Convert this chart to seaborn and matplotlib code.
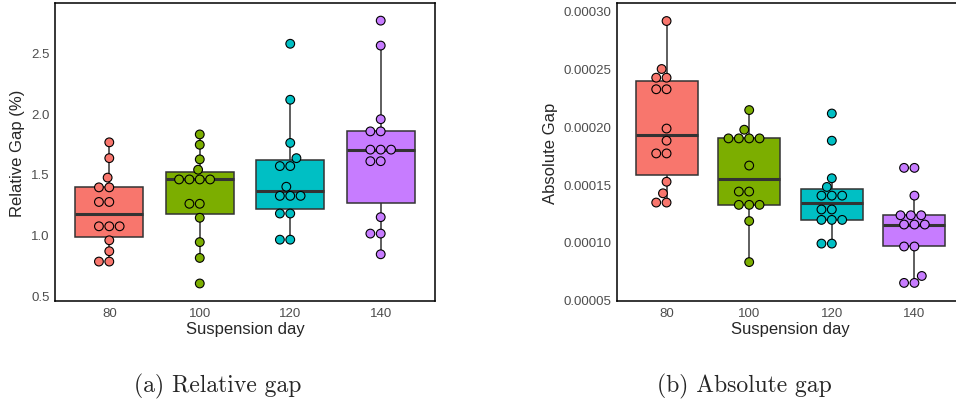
import matplotlib
matplotlib.use('Agg')
from matplotlib import pyplot as plt
import seaborn as sns
import pandas as pd
import numpy as np

sns.set_theme(style='white')
plt.rcParams['font.family'] = ['Liberation Sans', 'DejaVu Sans']

days = ['80', '100', '120', '140']
colors = ['#F8766D', '#7CAE00', '#00BFC4', '#C77CFF']

# relative gap (%)
rel_80 = [1.76, 1.63, 1.47, 1.39, 1.39, 1.27, 1.27, 1.07, 1.07, 1.07, 0.955, 0.865, 0.78, 0.78]
rel_100 = [1.825, 1.74, 1.62, 1.535, 1.455, 1.455, 1.455, 1.455, 1.255, 1.255, 1.14, 0.94, 0.81, 0.60]
rel_120 = [2.57, 2.11, 1.755, 1.63, 1.565, 1.565, 1.395, 1.32, 1.32, 1.32, 1.175, 1.175, 0.96, 0.96]
rel_140 = [2.76, 2.555, 1.95, 1.85, 1.85, 1.70, 1.70, 1.70, 1.605, 1.605, 1.145, 1.01, 1.01, 0.84]

# absolute gap (x 1e-5)
abs_80 = [29.1, 24.95, 24.2, 24.2, 23.2, 23.2, 19.8, 18.75, 17.65, 17.65, 15.2, 14.2, 13.4, 13.4]
abs_100 = [21.4, 19.7, 18.95, 18.95, 18.95, 18.95, 16.6, 14.35, 14.35, 13.2, 13.2, 13.2, 11.8, 8.25]
abs_120 = [21.1, 18.75, 15.5, 14.75, 14.0, 14.0, 14.0, 12.8, 12.8, 11.9, 11.9, 11.9, 9.85, 9.85]
abs_140 = [16.4, 16.4, 14.0, 12.3, 12.3, 12.3, 11.5, 11.5, 11.5, 9.6, 9.6, 7.05, 6.45, 6.45]

rel = [rel_80, rel_100, rel_120, rel_140]
absg = [abs_80, abs_100, abs_120, abs_140]

df_rel = pd.DataFrame({'day': np.repeat(days, [len(v) for v in rel]),
                       'value': np.concatenate(rel)})
df_abs = pd.DataFrame({'day': np.repeat(days, [len(v) for v in absg]),
                       'value': np.concatenate(absg) * 1e-5})

fig = plt.figure(figsize=(9.56, 4.06), dpi=100)
ax1 = fig.add_axes([55 / 956, 1 - 302 / 406, 380 / 956, 298 / 406])
ax2 = fig.add_axes([617 / 956, 1 - 302 / 406, 347 / 956, 298 / 406])


def draw(ax, df, ylabel, ylim, ticks, fmt):
    sns.boxplot(data=df, x='day', y='value', hue='day', order=days, hue_order=days,
                palette=colors, saturation=1, width=0.75, showfliers=False,
                linecolor='#333333', linewidth=1.1, legend=False, ax=ax,
                medianprops=dict(linewidth=2.2, color='#333333'),
                capprops=dict(linewidth=0))
    sns.swarmplot(data=df, x='day', y='value', hue='day', order=days, hue_order=days,
                  palette=colors, size=6.3, edgecolor='black', linewidth=0.8,
                  legend=False, ax=ax)
    ax.set_xlim(-0.6, 3.6)
    ax.set_ylim(*ylim)
    ax.set_yticks(ticks)
    ax.set_yticklabels([fmt.format(t) for t in ticks])
    ax.tick_params(length=0, pad=4, labelsize=9.5, labelcolor='#4D4D4D')
    ax.set_xlabel('Suspension day', fontsize=12, labelpad=2)
    ax.set_ylabel(ylabel, fontsize=12, labelpad=4)
    for s in ax.spines.values():
        s.set_color('black')
        s.set_linewidth(1.1)


draw(ax1, df_rel, 'Relative Gap (%)', (0.456, 2.905), [0.5, 1.0, 1.5, 2.0, 2.5], '{:.1f}')
draw(ax2, df_abs, 'Absolute Gap', (4.885e-5, 30.66e-5),
     [5e-5, 10e-5, 15e-5, 20e-5, 25e-5, 30e-5], '{:.5f}')

fig.text(218 / 956, 1 - 392 / 406, '(a) Relative gap', family='cmr10', fontsize=17,
         ha='center', va='baseline')
fig.text(744 / 956, 1 - 392 / 406, '(b) Absolute gap', family='cmr10', fontsize=17,
         ha='center', va='baseline')

fig.savefig('out.png', dpi=100)
